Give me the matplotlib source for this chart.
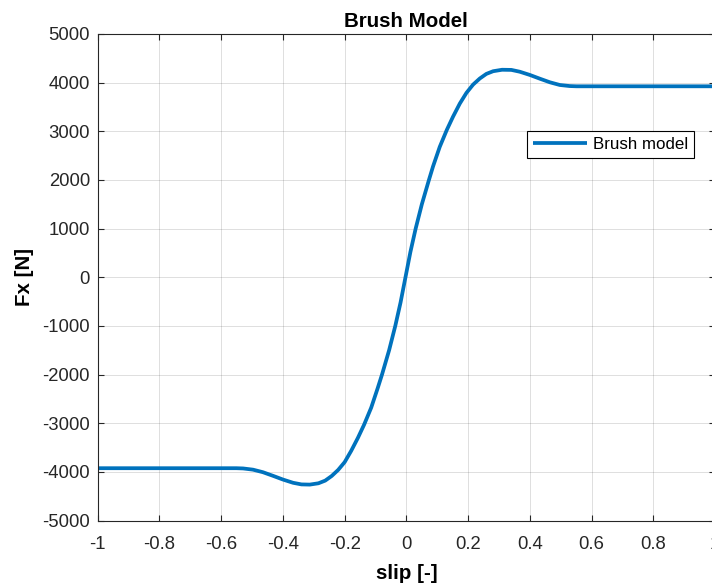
import matplotlib
matplotlib.use("Agg")
import matplotlib.pyplot as plt

# Data
slip = [-1.0, -0.551, -0.529, -0.497, -0.465, -0.432, -0.400, -0.367, -0.340,
        -0.313, -0.285, -0.263, -0.242, -0.221, -0.200, -0.179, -0.157,
        -0.137, -0.114, -0.093, -0.079, -0.056, -0.036, -0.019, -0.003,
        0.013, 0.030, 0.050, 0.073, 0.0864, 0.108, 0.131, 0.151, 0.173,
        0.1945, 0.216, 0.2377, 0.259, 0.281, 0.310, 0.340, 0.367, 0.400,
        0.432, 0.465, 0.497, 0.529, 0.551, 1.0]
fx = [-3925, -3925, -3930, -3955, -4007, -4082, -4158, -4225, -4258,
      -4262, -4235, -4180, -4085, -3960, -3800, -3570, -3300,
      -3030, -2680, -2280, -2000, -1500, -1000, -520, 0,
      520, 1000, 1500, 2000, 2280, 2680, 3030, 3300, 3570,
      3790, 3960, 4085, 4180, 4235, 4265, 4262, 4225, 4158,
      4082, 4007, 3952, 3930, 3925, 3925]

xticks = [-1, -0.8, -0.6, -0.4, -0.2, 0, 0.2, 0.4, 0.6, 0.8, 1]
xticklabels = ["-1", "-0.8", "-0.6", "-0.4", "-0.2", "0", "0.2", "0.4", "0.6", "0.8", "1"]
yticks = [-5000, -4000, -3000, -2000, -1000, 0, 1000, 2000, 3000, 4000, 5000]
yticklabels = [str(v) for v in yticks]

plt.rcParams['font.family'] = ['Liberation Sans', 'DejaVu Sans']
plt.rcParams['axes.unicode_minus'] = False

fig = plt.figure(figsize=(7.12, 5.85), dpi=100)
ax = fig.add_axes([97.7 / 712, 64.5 / 585, 617.4 / 712, 486.5 / 585])

ax.plot(slip, fx, color='#0072BD', linewidth=2.7, label='Brush model',
        solid_capstyle='butt', solid_joinstyle='round')

ax.set_xlim(-1, 1)
ax.set_ylim(-5000, 5000)
ax.set_xticks(xticks)
ax.set_xticklabels(xticklabels)
ax.set_yticks(yticks)
ax.set_yticklabels(yticklabels)

ax.grid(True, color='#262626', alpha=0.15, linewidth=0.7)
ax.set_axisbelow(True)
for s in ax.spines.values():
    s.set_color('#262626')
    s.set_linewidth(0.8)

ax.tick_params(axis='both', direction='in', length=4, width=0.8,
               colors='#262626', labelsize=13.3, top=True, right=True)
ax.tick_params(axis='x', pad=11)
ax.tick_params(axis='y', pad=5.5)
for lbl in ax.get_xticklabels() + ax.get_yticklabels():
    lbl.set_color('#262626')

ax.set_title('Brush Model', fontsize=14.8, fontweight='bold', pad=5, color='black')
ax.set_xlabel('slip [-]', fontsize=14.8, fontweight='bold', labelpad=8)
ax.set_ylabel('Fx [N]', fontsize=14.8, fontweight='bold', labelpad=6)

leg = ax.legend(loc='upper left', bbox_to_anchor=(0.6953, 0.8006),
                borderaxespad=0, fontsize=12.2, handlelength=3.2,
                handletextpad=0.35, borderpad=0.35, fancybox=False,
                framealpha=1, edgecolor='black')
leg.get_frame().set_linewidth(0.8)

fig.savefig('out.png', dpi=100)
